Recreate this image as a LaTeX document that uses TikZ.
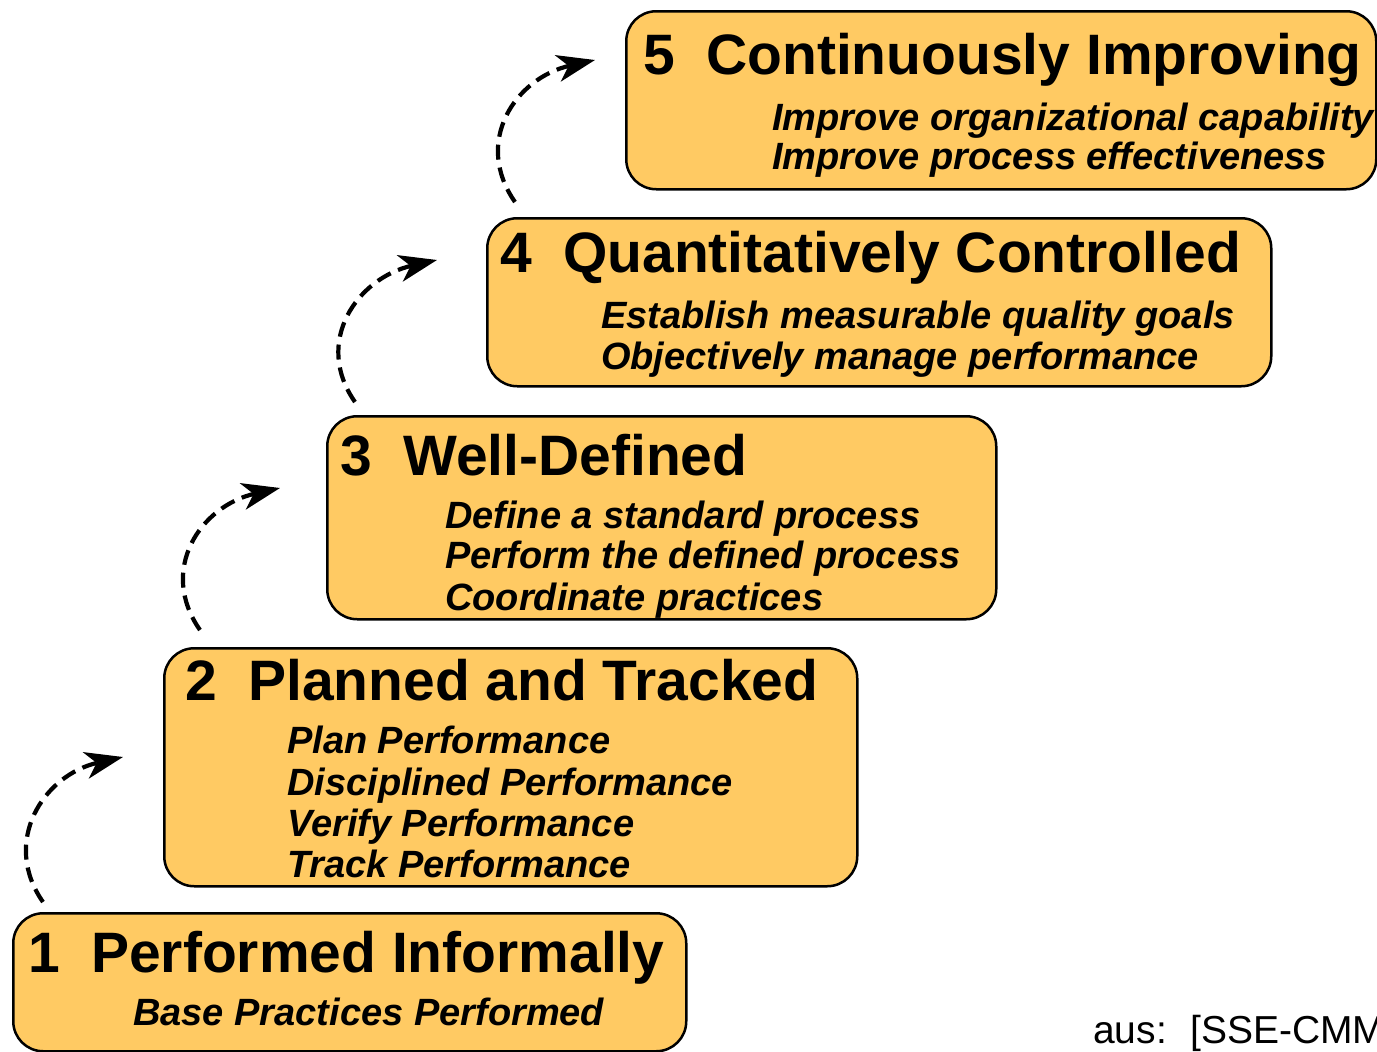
\documentclass[tikz,border=0pt]{standalone}
\usepackage{fontspec}
\setmainfont{Liberation Sans}
\usetikzlibrary{arrows.meta,calc}
\definecolor{boxfill}{HTML}{FFCA63}
\tikzset{
  stagebox/.style={draw=black, line width=2.5pt, fill=boxfill, rounded corners=30pt, anchor=north west, inner sep=0pt},
  titletext/.style={anchor=base west, inner sep=0pt, font=\fontsize{57}{60}\selectfont\bfseries},
  subtext/.style={anchor=base west, inner sep=0pt, font=\fontsize{38}{41}\selectfont\bfseries\itshape},
  notetext/.style={anchor=base west, inner sep=0pt, font=\fontsize{39}{42}\selectfont},
  stepup/.style={line width=4.2pt, dash pattern=on 15pt off 8pt, -{Stealth[length=38pt,width=27pt,inset=11pt]}},
}
\begin{document}
\begin{tikzpicture}[x=1pt,y=-1pt]
\useasboundingbox (0,0) rectangle (1377,1052);
\clip (0,0) rectangle (1377,1052);
% boxes
\node[stagebox, minimum width=673pt, minimum height=138pt] (b1) at (12,912) {};
\node[stagebox, minimum width=693pt, minimum height=238pt] (b2) at (163,647) {};
\node[stagebox, minimum width=669pt, minimum height=203pt] (b3) at (326,415) {};
\node[stagebox, minimum width=784pt, minimum height=168pt] (b4) at (486,217) {};
\node[stagebox, minimum width=750pt, minimum height=178pt] (b5) at (625,10) {};
% texts
\node[titletext] (t5) at (643,74) {5\hspace{0.55em}Continuously Improving};
\node[subtext] (s5a) at (772,130) {Improve organizational capability};
\node[subtext] (s5b) at (772,169) {Improve process effectiveness};
\node[titletext] (t4) at (500,272) {4\hspace{0.55em}Quantitatively Controlled};
\node[subtext] (s4a) at (601,328) {Establish measurable quality goals};
\node[subtext] (s4b) at (601,369) {Objectively manage performance};
\node[titletext] (t3) at (340,475) {3\hspace{0.55em}Well-Defined};
\node[subtext] (s3a) at (445,528) {Define a standard process};
\node[subtext] (s3b) at (445,568) {Perform the defined process};
\node[subtext] (s3c) at (445,610) {Coordinate practices};
\node[titletext] (t2) at (185,700) {2\hspace{0.55em}Planned and Tracked};
\node[subtext] (s2a) at (287,753) {Plan Performance};
\node[subtext] (s2b) at (287,795) {Disciplined Performance};
\node[subtext] (s2c) at (287,836) {Verify Performance};
\node[subtext] (s2d) at (287,877) {Track Performance};
\node[titletext] (t1) at (28,972) {1\hspace{0.55em}Performed Informally};
\node[subtext] (s1a) at (133,1025) {Base Practices Performed};
\node[notetext] (src) at (1093,1043) {aus:\hspace{0.6em}[SSE-CMM};
% arrow end points
\coordinate (a1s) at ($(b1.north west)+(31,-10)$);
\coordinate (a1e) at ($(b2.north west)+(-40,110)$);
\coordinate (a2s) at ($(b2.north west)+(37,-17)$);
\coordinate (a2e) at ($(b3.north west)+(-46,73)$);
\coordinate (a3s) at ($(b3.north west)+(29,-13)$);
\coordinate (a3e) at ($(b4.north west)+(-49,43)$);
\coordinate (a4s) at ($(b4.north west)+(29,-15)$);
\coordinate (a4e) at ($(b5.north west)+(-30,50)$);
% arrows
\draw[stepup] (a1s) .. controls +(-42,-60) and +(-80,18) .. (a1e);
\draw[stepup] (a2s) .. controls +(-42,-60) and +(-80,18) .. (a2e);
\draw[stepup] (a3s) .. controls +(-42,-60) and +(-80,18) .. (a3e);
\draw[stepup] (a4s) .. controls +(-42,-60) and +(-80,18) .. (a4e);
\end{tikzpicture}
\end{document}
